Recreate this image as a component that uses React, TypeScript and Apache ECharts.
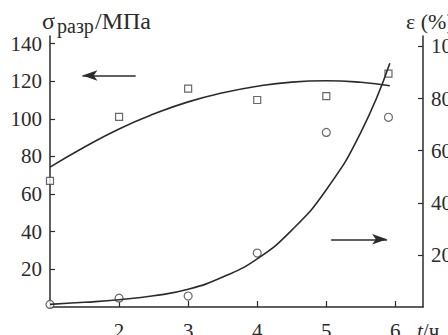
import React, { useEffect, useRef } from "react";
import * as echarts from "echarts";

// measured data points
const tPoints = [1, 2, 3, 4, 5, 5.9];
const strengthPoints = [67, 101, 116, 110, 112, 124];
const elongationPoints = [1, 3.4, 4.2, 20.7, 67, 72.8];

// fitted curves
const fitT = [1, 1.5, 2, 2.5, 3, 3.5, 4, 4.5, 5, 5.5, 5.92];
const strengthFit = [74.3, 85, 94.6, 102.5, 109, 113.8, 117.3, 119.5, 120.2, 119.4, 117.6];
const elongationFit = [1, 1.8, 2.8, 4.3, 6.8, 11.5, 18.5, 29.5, 45, 67, 93.5];

// axis ticks
const xTicks = [2, 3, 4, 5, 6];
const leftTicks = [20, 40, 60, 80, 100, 120, 140];
const rightTicks = [20, 40, 60, 80, 100];

// arrow annotations [t, value]
const leftArrow = [[2.24, 123], [1.47, 123]];
const rightArrow = [[5.07, 26], [5.88, 26]];

const FONT = "'Liberation Serif', 'DejaVu Serif', serif";
const INK = "#2b2b2b";

const pairs = (xs: number[], ys: number[]) => xs.map((x, i) => [x, ys[i]]);

export default function App() {
  const ref = useRef<HTMLDivElement>(null);
  useEffect(() => {
    document.body.style.margin = "0";
    const chart = echarts.init(ref.current!, null, { renderer: "svg" });
    const axisCommon = {
      axisLine: { show: true, lineStyle: { color: INK, width: 1.5 } },
      splitLine: { show: false },
      axisLabel: { color: INK, fontFamily: FONT, fontSize: 21 },
      axisTick: { show: true, inside: true, length: 5, lineStyle: { color: INK, width: 1.2 } },
    };
    chart.setOption({
      animation: false,
      backgroundColor: "#fff",
      grid: { left: 50, right: 25, top: 36, bottom: 28, containLabel: false, outerBoundsMode: "none" },
      xAxis: {
        type: "value",
        min: 1,
        max: 6.4,
        ...axisCommon,
        axisLabel: { ...axisCommon.axisLabel, margin: 13, customValues: xTicks },
        axisTick: { ...axisCommon.axisTick, length: 6, customValues: xTicks },
      },
      yAxis: [
        {
          type: "value",
          min: 0,
          max: 144,
          position: "left",
          ...axisCommon,
          axisLabel: { ...axisCommon.axisLabel, margin: 8, customValues: leftTicks },
          axisTick: { ...axisCommon.axisTick, customValues: leftTicks },
        },
        {
          type: "value",
          min: 0,
          max: 104,
          position: "right",
          ...axisCommon,
          axisLabel: { ...axisCommon.axisLabel, margin: 8, customValues: rightTicks },
          axisTick: { ...axisCommon.axisTick, customValues: rightTicks },
        },
      ],
      graphic: [
        { type: "text", x: 42, y: 21, style: { text: "σ", font: `24px ${FONT}`, fill: INK, verticalAlign: "middle" } },
        { type: "text", x: 57, y: 26, style: { text: "разр", font: `20px ${FONT}`, fill: INK, verticalAlign: "middle" } },
        { type: "text", x: 95, y: 21, style: { text: "/МПа", font: `24px ${FONT}`, fill: INK, verticalAlign: "middle" } },
        { type: "text", x: 406, y: 21, style: { text: "ε (%)", font: `22px ${FONT}`, fill: INK, verticalAlign: "middle" } },
        {
          type: "text",
          x: 417,
          y: 320,
          style: {
            text: "{i|t}/ч",
            font: `21px ${FONT}`,
            fill: INK,
            verticalAlign: "top",
            rich: { i: { fontStyle: "italic", fontFamily: FONT, fontSize: 21, fill: INK } },
          },
        },
      ],
      series: [
        {
          type: "line",
          yAxisIndex: 0,
          data: pairs(fitT, strengthFit),
          smooth: 0.5,
          showSymbol: false,
          lineStyle: { color: INK, width: 1.6 },
          markLine: {
            silent: true,
            symbol: ["none", "arrow"],
            symbolSize: [8, 15],
            label: { show: false },
            lineStyle: { color: INK, width: 1.6, type: "solid" },
            data: [[{ coord: leftArrow[0] }, { coord: leftArrow[1] }]],
          },
        },
        {
          type: "line",
          yAxisIndex: 1,
          data: pairs(fitT, elongationFit),
          smooth: 0.5,
          showSymbol: false,
          lineStyle: { color: INK, width: 1.6 },
          markLine: {
            silent: true,
            symbol: ["none", "arrow"],
            symbolSize: [8, 15],
            label: { show: false },
            lineStyle: { color: INK, width: 1.6, type: "solid" },
            data: [[{ coord: rightArrow[0] }, { coord: rightArrow[1] }]],
          },
        },
        {
          type: "scatter",
          yAxisIndex: 0,
          data: pairs(tPoints, strengthPoints),
          symbol: "rect",
          symbolSize: 7,
          clip: false,
          itemStyle: { color: "#fff", borderColor: "#444", borderWidth: 1.2 },
        },
        {
          type: "scatter",
          yAxisIndex: 1,
          data: pairs(tPoints, elongationPoints),
          symbol: "circle",
          symbolSize: 8,
          clip: false,
          itemStyle: { color: "#fff", borderColor: "#444", borderWidth: 1.2 },
        },
      ],
    });
    return () => chart.dispose();
  }, []);
  return <div ref={ref} style={{ width: 448, height: 335 }} />;
}
